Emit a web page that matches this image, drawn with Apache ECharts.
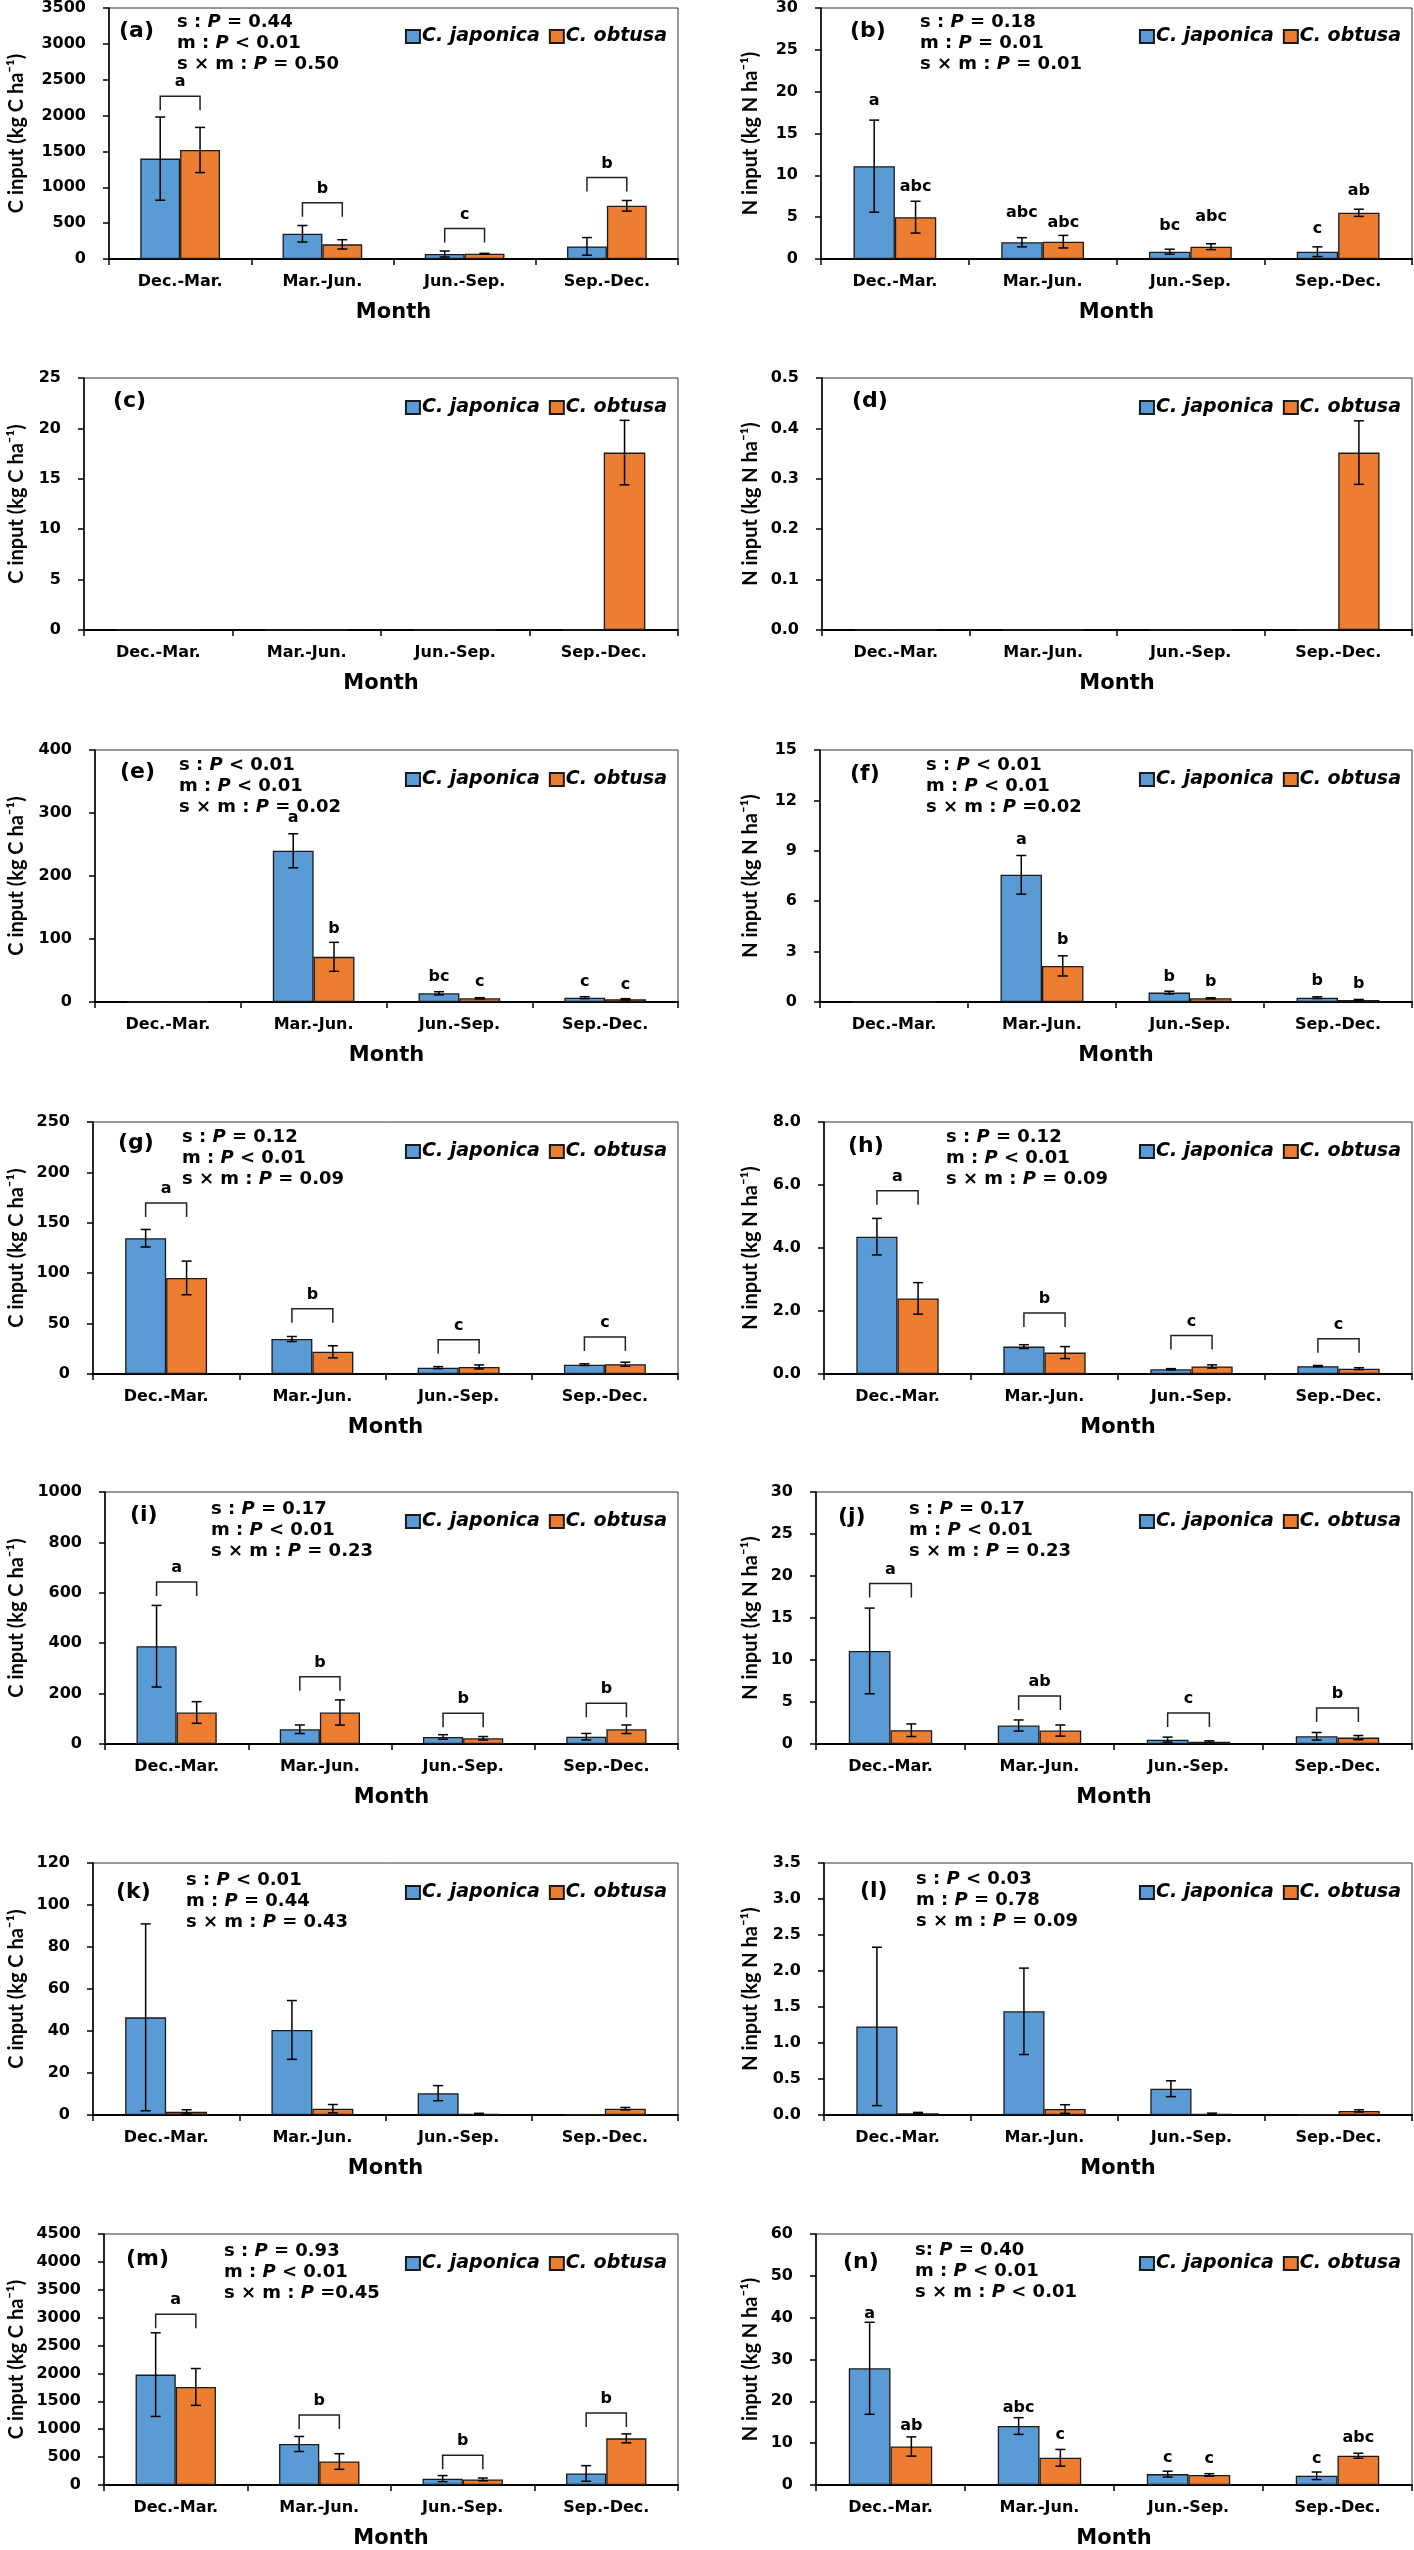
<!DOCTYPE html>
<html><head><meta charset="utf-8">
<script src="https://cdn.jsdelivr.net/npm/echarts@6/dist/echarts.min.js"></script>
<style>html,body{margin:0;padding:0;background:#fff}#c{width:1414px;height:2550px}</style>
</head><body><div id="c"></div>
<script>
// ---------------- DATA ----------------
const months = ['Dec.-Mar.', 'Mar.-Jun.', 'Jun.-Sep.', 'Sep.-Dec.'];
const speciesNames = ['C. japonica', 'C. obtusa'];
const cName = 'C input (kg C ha⁻¹)';
const nName = 'N input (kg N ha⁻¹)';

// (a)
const a_jap = [1400, 352, 70, 176];
const a_japErr = [580, 115, 42, 123];
const a_obt = [1520, 204, 74, 742];
const a_obtErr = [315, 65, 5, 74];
const a_bracket = [2270, 783, 426, 1136];
const a_bracketLetters = ['a', 'b', 'c', 'b'];
const a_stats = ['s : P = 0.44', 'm : P < 0.01', 's × m : P = 0.50'];
// (b)
const b_jap = [11.1, 2.0, 0.87, 0.87];
const b_japErr = [5.5, 0.55, 0.3, 0.58];
const b_obt = [5.0, 2.07, 1.47, 5.52];
const b_obtErr = [1.9, 0.75, 0.35, 0.43];
const b_japLetters = ['a', 'abc', 'bc', 'c'];
const b_japLetterY = [18.9, 5.56, 3.97, 3.58];
const b_obtLetters = ['abc', 'abc', 'abc', 'ab'];
const b_obtLetterY = [8.6, 4.37, 5.05, 8.14];
const b_stats = ['s : P = 0.18', 'm : P = 0.01', 's × m : P = 0.01'];
// (c)
const c_jap = [0, 0, 0, 0];
const c_japErr = [0, 0, 0, 0];
const c_obt = [0, 0, 0, 17.6];
const c_obtErr = [0, 0, 0, 3.2];
// (d)
const d_jap = [0, 0, 0, 0];
const d_japErr = [0, 0, 0, 0];
const d_obt = [0, 0, 0, 0.352];
const d_obtErr = [0, 0, 0, 0.063];
// (e)
const e_jap = [0, 240, 13.8, 6.9];
const e_japErr = [0, 27, 2.5, 1.5];
const e_obt = [0, 71.7, 5.9, 4.3];
const e_obtErr = [0, 23, 1, 1];
const e_japLetters = ['', 'a', 'bc', 'c'];
const e_japLetterY = [null, 292, 40, 32];
const e_obtLetters = ['', 'b', 'c', 'c'];
const e_obtLetterY = [null, 116, 32, 27];
const e_stats = ['s : P < 0.01', 'm : P < 0.01', 's × m : P = 0.02'];
// (f)
const f_jap = [0, 7.57, 0.56, 0.26];
const f_japErr = [0, 1.15, 0.08, 0.05];
const f_obt = [0, 2.15, 0.22, 0.12];
const f_obtErr = [0, 0.6, 0.03, 0.03];
const f_japLetters = ['', 'a', 'b', 'b'];
const f_japLetterY = [null, 9.66, 1.49, 1.25];
const f_obtLetters = ['', 'b', 'b', 'b'];
const f_obtLetterY = [null, 3.7, 1.19, 1.11];
const f_stats = ['s : P < 0.01', 'm : P < 0.01', 's × m : P =0.02'];
// (g)
const g_jap = [134.7, 34.7, 6.3, 9.3];
const g_japErr = [8.7, 2.5, 1, 0.8];
const g_obt = [95.3, 22, 7, 9.7];
const g_obtErr = [16.7, 6, 2, 2];
const g_bracket = [169.7, 64.7, 34, 36.7];
const g_bracketLetters = ['a', 'b', 'c', 'c'];
const g_stats = ['s : P = 0.12', 'm : P < 0.01', 's × m : P = 0.09'];
// (h)
const h_jap = [4.36, 0.87, 0.15, 0.25];
const h_japErr = [0.58, 0.06, 0.02, 0.02];
const h_obt = [2.4, 0.68, 0.24, 0.17];
const h_obtErr = [0.5, 0.19, 0.05, 0.03];
const h_bracket = [5.82, 1.94, 1.22, 1.12];
const h_bracketLetters = ['a', 'b', 'c', 'c'];
const h_stats = ['s : P = 0.12', 'm : P < 0.01', 's × m : P = 0.09'];
// (i)
const i_jap = [388, 58.5, 28, 29];
const i_japErr = [162, 17, 9, 13];
const i_obt = [125, 125, 22.6, 58.5];
const i_obtErr = [43, 50, 7, 17];
const i_bracket = [643, 267, 122, 162];
const i_bracketLetters = ['a', 'b', 'b', 'b'];
const i_stats = ['s : P = 0.17', 'm : P < 0.01', 's × m : P = 0.23'];
// (j)
const j_jap = [11.08, 2.2, 0.52, 0.92];
const j_japErr = [5.1, 0.66, 0.3, 0.45];
const j_obt = [1.64, 1.6, 0.28, 0.76];
const j_obtErr = [0.75, 0.66, 0.1, 0.25];
const j_bracket = [19.1, 5.7, 3.7, 4.3];
const j_bracketLetters = ['a', 'ab', 'c', 'b'];
const j_stats = ['s : P = 0.17', 'm : P < 0.01', 's × m : P = 0.23'];
// (k)
const k_jap = [46.5, 40.5, 10.4, 0];
const k_japErr = [44.5, 14, 3.6, 0];
const k_obt = [1.5, 3, 0.5, 3];
const k_obtErr = [1, 2, 0.3, 0.6];
const k_stats = ['s : P < 0.01', 'm : P = 0.44', 's × m : P = 0.43'];
// (l)
const l_jap = [1.23, 1.44, 0.365, 0];
const l_japErr = [1.1, 0.6, 0.11, 0];
const l_obt = [0.026, 0.083, 0.016, 0.057];
const l_obtErr = [0.01, 0.06, 0.01, 0.015];
const l_stats = ['s : P < 0.03', 'm : P = 0.78', 's × m : P = 0.09'];
// (m)
const m_jap = [1979, 735, 114, 207];
const m_japErr = [750, 135, 55, 140];
const m_obt = [1758, 421, 100, 836];
const m_obtErr = [330, 140, 25, 80];
const m_bracket = [3061, 1257, 535, 1290];
const m_bracketLetters = ['a', 'b', 'b', 'b'];
const m_stats = ['s : P = 0.93', 'm : P < 0.01', 's × m : P =0.45'];
// (n)
const n_jap = [27.9, 14.1, 2.6, 2.2];
const n_japErr = [11, 2, 0.7, 0.9];
const n_obt = [9.2, 6.5, 2.4, 7.0];
const n_obtErr = [2.3, 2, 0.3, 0.6];
const n_japLetters = ['a', 'abc', 'c', 'c'];
const n_japLetterY = [41, 18.4, 6.5, 6.3];
const n_obtLetters = ['ab', 'c', 'c', 'abc'];
const n_obtLetterY = [14.1, 11.9, 6.3, 11.2];
const n_stats = ['s: P = 0.40', 'm : P < 0.01', 's × m : P < 0.01'];

// y-axis scales (max, interval, decimals)
const yMaxes = [3500, 30, 25, 0.5, 400, 15, 250, 8, 1000, 30, 120, 3.5, 4500, 60];
const yIntervals = [500, 5, 5, 0.1, 100, 3, 50, 2, 200, 5, 20, 0.5, 500, 10];
const yDecimals = [0, 0, 0, 1, 0, 0, 0, 1, 0, 0, 0, 1, 0, 0];

// ---------------- LAYOUT ----------------
const FONT = '"DejaVu Sans", Verdana, sans-serif';
const VFONT = 'Lato, "Open Sans", sans-serif';
const ROW_TOPS = [7, 378, 750, 1122, 1492, 1863, 2234];
const PH = 252;
const RIGHT_EDGE = [678, 1412];
const BAR_FRAC = 0.28;
const BLUE = '#5B9BD5', ORANGE = '#ED7D31';

const panels = [
  {tag:'(a)', left:109, tagX:119, tagDy:13, statsX:177, statsDy:5, yName:cName, jap:a_jap, japErr:a_japErr, obt:a_obt, obtErr:a_obtErr, bracket:a_bracket, bracketLetters:a_bracketLetters, stats:a_stats},
  {tag:'(b)', left:821, tagX:850, tagDy:13, statsX:920, statsDy:5, yName:nName, jap:b_jap, japErr:b_japErr, obt:b_obt, obtErr:b_obtErr, japLetters:b_japLetters, japLetterY:b_japLetterY, obtLetters:b_obtLetters, obtLetterY:b_obtLetterY, stats:b_stats},
  {tag:'(c)', left:84, tagX:113, tagDy:12, yName:cName, jap:c_jap, japErr:c_japErr, obt:c_obt, obtErr:c_obtErr},
  {tag:'(d)', left:822, tagX:852, tagDy:12, yName:nName, jap:d_jap, japErr:d_japErr, obt:d_obt, obtErr:d_obtErr},
  {tag:'(e)', left:95, tagX:120, tagDy:11, statsX:179, statsDy:5, yName:cName, jap:e_jap, japErr:e_japErr, obt:e_obt, obtErr:e_obtErr, japLetters:e_japLetters, japLetterY:e_japLetterY, obtLetters:e_obtLetters, obtLetterY:e_obtLetterY, stats:e_stats},
  {tag:'(f)', left:820, tagX:850, tagDy:13, statsX:926, statsDy:5, yName:nName, jap:f_jap, japErr:f_japErr, obt:f_obt, obtErr:f_obtErr, japLetters:f_japLetters, japLetterY:f_japLetterY, obtLetters:f_obtLetters, obtLetterY:f_obtLetterY, stats:f_stats},
  {tag:'(g)', left:93, tagX:118, tagDy:10, statsX:182, statsDy:5, yName:cName, jap:g_jap, japErr:g_japErr, obt:g_obt, obtErr:g_obtErr, bracket:g_bracket, bracketLetters:g_bracketLetters, stats:g_stats},
  {tag:'(h)', left:824, tagX:848, tagDy:13, statsX:946, statsDy:5, yName:nName, jap:h_jap, japErr:h_japErr, obt:h_obt, obtErr:h_obtErr, bracket:h_bracket, bracketLetters:h_bracketLetters, stats:h_stats},
  {tag:'(i)', left:105, tagX:130, tagDy:12, statsX:211, statsDy:7, yName:cName, jap:i_jap, japErr:i_japErr, obt:i_obt, obtErr:i_obtErr, bracket:i_bracket, bracketLetters:i_bracketLetters, stats:i_stats},
  {tag:'(j)', left:816, tagX:838, tagDy:14, statsX:909, statsDy:7, yName:nName, jap:j_jap, japErr:j_japErr, obt:j_obt, obtErr:j_obtErr, bracket:j_bracket, bracketLetters:j_bracketLetters, stats:j_stats},
  {tag:'(k)', left:93, tagX:116, tagDy:18, statsX:186, statsDy:7, yName:cName, jap:k_jap, japErr:k_japErr, obt:k_obt, obtErr:k_obtErr, stats:k_stats},
  {tag:'(l)', left:824, tagX:860, tagDy:17, statsX:916, statsDy:6, yName:nName, jap:l_jap, japErr:l_japErr, obt:l_obt, obtErr:l_obtErr, stats:l_stats},
  {tag:'(m)', left:104, tagX:126, tagDy:14, statsX:224, statsDy:7, yName:cName, jap:m_jap, japErr:m_japErr, obt:m_obt, obtErr:m_obtErr, bracket:m_bracket, bracketLetters:m_bracketLetters, stats:m_stats},
  {tag:'(n)', left:816, tagX:843, tagDy:17, statsX:915, statsDy:6, yName:nName, jap:n_jap, japErr:n_japErr, obt:n_obt, obtErr:n_obtErr, japLetters:n_japLetters, japLetterY:n_japLetterY, obtLetters:n_obtLetters, obtLetterY:n_obtLetterY, stats:n_stats}
];

function richStat(s) {
  const parts = s.split('P');
  return '{n|' + parts[0] + '}{i|P}{n|' + parts[1] + '}';
}

function makeRender(p) {
  return function (params, api) {
    const k = api.value(0);
    const base = api.coord([k, 0]);
    const cx = base[0];
    const band = api.size([1, 0])[0];
    const bw = band * BAR_FRAC;
    const xs = [cx - bw / 2, cx + bw / 2];
    const ch = [];
    const lineSt = {stroke: '#000', lineWidth: 1.5};
    [[p.jap, p.japErr], [p.obt, p.obtErr]].forEach(function (pair, s) {
      const v = pair[0][k], e = pair[1][k];
      if (e > 0) {
        const yT = api.coord([k, v + e])[1];
        const yB = api.coord([k, Math.max(0, v - e)])[1];
        const x = xs[s];
        ch.push({type: 'line', shape: {x1: x, y1: yT, x2: x, y2: yB}, style: lineSt});
        ch.push({type: 'line', shape: {x1: x - 5, y1: yT, x2: x + 5, y2: yT}, style: lineSt});
        ch.push({type: 'line', shape: {x1: x - 5, y1: yB, x2: x + 5, y2: yB}, style: lineSt});
      }
    });
    const letterStyle = function (x, y, t) {
      return {type: 'text', x: x, y: y, style: {text: t, fill: '#000', fontSize: 16, fontWeight: 'bold', fontFamily: FONT, align: 'center', verticalAlign: 'middle'}};
    };
    if (p.bracket) {
      const yb = api.coord([k, p.bracket[k]])[1];
      ch.push({type: 'polyline', shape: {points: [[xs[0], yb + 14], [xs[0], yb], [xs[1], yb], [xs[1], yb + 14]]}, style: {stroke: '#222', lineWidth: 1.5, fill: null}});
      ch.push(letterStyle(cx, yb - 14, p.bracketLetters[k]));
    }
    if (p.japLetters && p.japLetters[k]) {
      ch.push(letterStyle(xs[0], api.coord([k, p.japLetterY[k]])[1], p.japLetters[k]));
    }
    if (p.obtLetters && p.obtLetters[k]) {
      ch.push(letterStyle(xs[1], api.coord([k, p.obtLetterY[k]])[1], p.obtLetters[k]));
    }
    return {type: 'group', children: ch};
  };
}

const grid = [], xAxis = [], yAxis = [], series = [], legend = [], title = [];
panels.forEach(function (p, i) {
  const row = Math.floor(i / 2), col = i % 2;
  const top = ROW_TOPS[row];
  const right = RIGHT_EDGE[col];
  grid.push({left: p.left, top: top, width: right - p.left, height: PH, show: true, borderColor: '#333', borderWidth: 1, backgroundColor: 'transparent'});
  xAxis.push({
    type: 'category', gridIndex: i, data: months,
    axisLine: {lineStyle: {color: '#000', width: 2}},
    axisTick: {show: true, length: 6, lineStyle: {color: '#000', width: 1.5}},
    axisLabel: {fontFamily: FONT, fontWeight: 'bold', fontSize: 16, color: '#000', margin: 15},
    name: 'Month', nameLocation: 'middle', nameGap: 43,
    nameTextStyle: {fontFamily: FONT, fontWeight: 'bold', fontSize: 21, color: '#000'}
  });
  const dec = yDecimals[i];
  const nameCenter = col === 0 ? 16 : 750;
  yAxis.push({
    type: 'value', gridIndex: i, min: 0, max: yMaxes[i], interval: yIntervals[i],
    splitLine: {show: false},
    axisLine: {show: true, lineStyle: {color: '#000', width: 1.5}},
    axisTick: {show: true, length: 6, lineStyle: {color: '#000', width: 1.5}},
    axisLabel: {fontFamily: FONT, fontWeight: 'bold', fontSize: 16, color: '#000', margin: 23, formatter: function (v) { return v.toFixed(dec); }},
    name: p.yName, nameLocation: 'middle', nameRotate: 90, nameGap: p.left - nameCenter - 11,
    nameTextStyle: {fontFamily: VFONT, fontWeight: 'bold', fontSize: 20, color: '#000'}
  });
  series.push({
    type: 'bar', name: speciesNames[0], xAxisIndex: i, yAxisIndex: i, data: p.jap,
    barGap: '0%', barCategoryGap: '44%',
    itemStyle: {color: BLUE, borderColor: '#1a1a1a', borderWidth: 1.3}, silent: true
  });
  series.push({
    type: 'bar', name: speciesNames[1], xAxisIndex: i, yAxisIndex: i, data: p.obt,
    barGap: '0%', barCategoryGap: '44%',
    itemStyle: {color: ORANGE, borderColor: '#1a1a1a', borderWidth: 1.3}, silent: true
  });
  series.push({
    type: 'custom', xAxisIndex: i, yAxisIndex: i, z: 5, silent: true,
    data: months.map(function (m, k) { return [k, 0]; }), encode: {x: 0, y: 1},
    renderItem: makeRender(p)
  });
  legend.push({
    data: speciesNames, right: 1414 - right + 6, top: top + 15,
    itemWidth: 14, itemHeight: 13, itemGap: 9, icon: 'rect', selectedMode: false,
    textStyle: {fontFamily: FONT, fontStyle: 'italic', fontWeight: 'bold', fontSize: 19, color: '#000', padding: [0, 0, 0, -3]}
  });
  title.push({
    text: p.tag, left: p.tagX, top: top + p.tagDy, padding: 0,
    textStyle: {fontFamily: FONT, fontWeight: 'bold', fontSize: 22, color: '#000'}
  });
  if (p.stats) {
    title.push({
      text: p.stats.map(richStat).join('\n'), left: p.statsX, top: top + p.statsDy, padding: 0,
      textStyle: {
        lineHeight: 21,
        rich: {
          n: {fontFamily: FONT, fontWeight: 'bold', fontSize: 18, color: '#000', lineHeight: 21},
          i: {fontFamily: FONT, fontWeight: 'bold', fontStyle: 'italic', fontSize: 18, color: '#000', lineHeight: 21}
        }
      }
    });
  }
});

const chart = echarts.init(document.getElementById('c'), null, {renderer: 'canvas'});
chart.setOption({
  animation: false,
  backgroundColor: '#fff',
  grid: grid, xAxis: xAxis, yAxis: yAxis, series: series, legend: legend, title: title
});
</script>
</body></html>
